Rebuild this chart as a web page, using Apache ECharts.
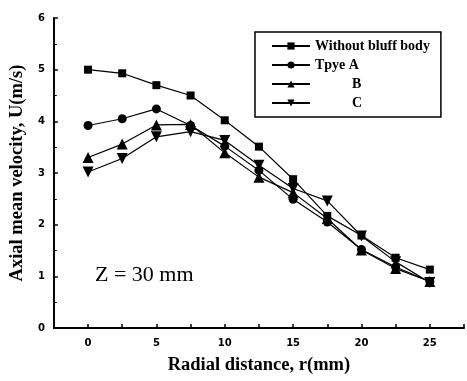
<!DOCTYPE html>
<html><head><meta charset="utf-8">
<script src="https://cdn.jsdelivr.net/npm/echarts@6/dist/echarts.min.js"></script>
<style>html,body{margin:0;padding:0;background:#fff}#c{width:467px;height:381px}</style>
</head><body><div id="c"></div>
<script>
const radial = [0, 2.5, 5, 7.5, 10, 12.5, 15, 17.5, 20, 22.5, 25];
const withoutBluff = [5.0, 4.93, 4.7, 4.5, 4.02, 3.51, 2.88, 2.17, 1.79, 1.36, 1.13];
const typeA = [3.92, 4.05, 4.24, 3.92, 3.52, 3.05, 2.49, 2.05, 1.52, 1.18, 0.9];
const typeB = [3.3, 3.56, 3.93, 3.94, 3.39, 2.92, 2.62, 2.12, 1.51, 1.15, 0.9];
const typeC = [3.02, 3.28, 3.7, 3.8, 3.63, 3.15, 2.7, 2.46, 1.78, 1.28, 0.88];
const seriesNames = ['Without bluff body', 'Tpye A', 'B', 'C'];
const xTicks = [0, 5, 10, 15, 20, 25];
const yTicks = [0, 1, 2, 3, 4, 5, 6];

const pairs = a => radial.map((x, i) => [x, a[i]]);
const mk = (name, data, symbol, size, rotate) => ({
  name, type: 'line', data: pairs(data), symbol, symbolSize: size, symbolRotate: rotate || 0,
  lineStyle: {color: '#000', width: 1.2}, itemStyle: {color: '#000'}, z: 3
});
const chart = echarts.init(document.getElementById('c'));
const serif = '"Liberation Serif", "Times New Roman", serif';
const sans = '"DejaVu Sans", Arial, sans-serif';
chart.setOption({
  animation: false,
  backgroundColor: '#fff',
  grid: {left: 52, top: 18, right: 0, bottom: 53},
  legend: {
    left: 255, top: 32, orient: 'vertical',
    backgroundColor: '#fff', borderColor: '#000', borderWidth: 1.5,
    padding: [7, 11, 7, 16], itemGap: 5, itemWidth: 38, itemHeight: 9,
    data: seriesNames,
    formatter: n => (n === 'B' || n === 'C') ? '{ind|' + n + '}' : n,
    textStyle: {fontFamily: serif, fontWeight: 'bold', fontSize: 14, color: '#000',
      rich: {ind: {fontFamily: serif, fontWeight: 'bold', fontSize: 14, color: '#000', padding: [0, 0, 0, 37]}}}
  },
  xAxis: {
    type: 'value', min: -2.5, max: 27.5, interval: 2.5,
    name: 'Radial distance, r(mm)', nameLocation: 'middle', nameGap: 28,
    nameTextStyle: {fontFamily: serif, fontWeight: 'bold', fontSize: 18.5, color: '#000'},
    axisLine: {onZero: false, lineStyle: {color: '#000', width: 2}},
    axisTick: {inside: true, length: 4, lineStyle: {color: '#000', width: 1.5}},
    axisLabel: {fontFamily: sans, fontWeight: 'bold', fontSize: 10, color: '#000', margin: 10,
      formatter: v => xTicks.includes(v) ? String(v) : ''},
    splitLine: {show: false}
  },
  yAxis: {
    type: 'value', min: 0, max: 6, interval: 1,
    name: 'Axial mean velocity, U(m/s)', nameLocation: 'middle', nameGap: 22,
    nameTextStyle: {fontFamily: serif, fontWeight: 'bold', fontSize: 18.5, color: '#000'},
    axisLine: {show: true, onZero: false, lineStyle: {color: '#000', width: 2}},
    axisTick: {show: true, inside: true, length: 4, lineStyle: {color: '#000', width: 1.5}},
    minorTick: {show: true, splitNumber: 2, length: 3, lineStyle: {color: '#000'}},
    axisLabel: {fontFamily: sans, fontWeight: 'bold', fontSize: 10, color: '#000', margin: 9,
      formatter: v => yTicks.includes(v) ? String(v) : ''},
    splitLine: {show: false}
  },
  graphic: [{
    type: 'text', left: 95, top: 264,
    style: {text: 'Z = 30 mm', font: '22px ' + serif, fill: '#000'}
  }],
  series: [
    mk(seriesNames[0], withoutBluff, 'rect', 8),
    mk(seriesNames[1], typeA, 'circle', 9),
    mk(seriesNames[2], typeB, 'triangle', 11),
    mk(seriesNames[3], typeC, 'triangle', 11, 180)
  ]
});
</script></body></html>
